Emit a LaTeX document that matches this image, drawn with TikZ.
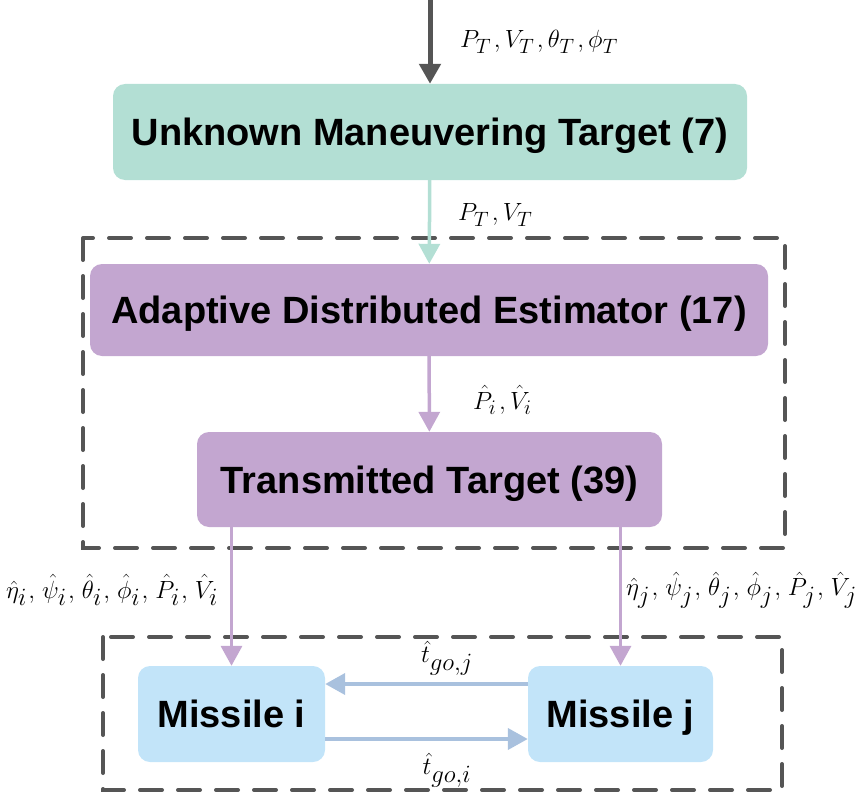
\documentclass[tikz,border=0pt]{standalone}
\usepackage{fontspec}
\setsansfont{Liberation Sans}
\setmainfont{Liberation Serif}
\usepackage{tikz}
\usetikzlibrary{arrows.meta,positioning,calc}

\definecolor{tealbox}{HTML}{B3DFD4}
\definecolor{purplebox}{HTML}{C3A6D0}
\definecolor{bluebox}{HTML}{C2E4F9}
\definecolor{bluearrow}{HTML}{A9C1DE}
\definecolor{darkline}{HTML}{555555}

\newcommand{\tsep}{\mkern2mu,}
\newcommand{\lsep}{\mkern1mu,\mkern2mu}

\tikzset{
  block/.style={rounded corners=12pt,inner sep=0pt,text=black,
    text height=27.5pt,text depth=0pt,
    font=\sffamily\bfseries\fontsize{38}{40}\selectfont},
  flow/.style={line width=3.5pt,-{Triangle[length=20pt,width=21pt]}},
  mlabel/.style={inner sep=0pt,font=\fontsize{30}{32}\selectfont},
  biglabel/.style={mlabel,font=\fontsize{33}{35}\selectfont},
  group/.style={darkline,line width=4pt,dash pattern=on 22pt off 16pt,line cap=round},
}

\begin{document}
\begin{tikzpicture}[x=1pt,y=-1pt]
  \useasboundingbox (0,0) rectangle (865,800);
  % target and estimator blocks
  \node[block,fill=tealbox,minimum width=634pt,minimum height=96pt] (target) at (430,132) {Unknown Maneuvering Target (7)};
  \node[block,fill=purplebox,minimum width=678pt,minimum height=92pt] (estimator) at (429,310) {Adaptive Distributed Estimator (17)};
  \node[block,fill=purplebox,minimum width=465pt,minimum height=95pt] (transmitted) at (429.5,479.5) {Transmitted Target (39)};
  % missiles
  \node[block,fill=bluebox,minimum width=187pt,minimum height=96pt] (missilei) at (231.5,714) {Missile i};
  \node[block,fill=bluebox,minimum width=185pt,minimum height=96pt] (missilej) at (620.5,714) {Missile j};
  \coordinate (input) at (430,0);

  % dashed groups
  \draw[group] (83,238) rectangle (785,548);
  \draw[group] (103,637) rectangle (782,790);

  % connectors
  \draw[flow,darkline,line width=5pt] (input) -- (target.north);
  \draw[flow,tealbox] (target) -- (estimator);
  \draw[flow,purplebox] (estimator) -- (transmitted);
  \draw[flow,purplebox] (transmitted.south -| missilei) -- (missilei);
  \draw[flow,purplebox] (transmitted.south -| missilej) -- (missilej);
  \draw[flow,bluearrow,line width=4pt] ($(missilej.west)+(0,-30)$) -- ($(missilei.east)+(0,-30)$);
  \draw[flow,bluearrow,line width=4pt] ($(missilei.east)+(0,25)$) -- ($(missilej.west)+(0,25)$);

  % labels
  \node[mlabel,anchor=west] (lbltarget) at (460,42) {$P_T\tsep V_T\tsep\theta_T\tsep\phi_T$};
  \node[mlabel,anchor=west] (lblmeas) at (458,215) {$P_T\tsep V_T$};
  \node[mlabel,anchor=west] (lblest) at (473,400) {$\hat{P}_i\tsep\hat{V}_i$};
  \node[biglabel,anchor=west] (lbli) at (6,590) {$\hat{\eta}_i\lsep\hat{\psi}_i\lsep\hat{\theta}_i\lsep\hat{\phi}_i\lsep\hat{P}_i\lsep\hat{V}_i$};
  \node[biglabel,anchor=west] (lblj) at (626,590) {$\hat{\eta}_j\lsep\hat{\psi}_j\lsep\hat{\theta}_j\lsep\hat{\phi}_j\lsep\hat{P}_j\lsep\hat{V}_j$};
  \node[biglabel] (lbltj) at (447,658) {$\hat{t}_{go,j}$};
  \node[biglabel] (lblti) at (447,770) {$\hat{t}_{go,i}$};
\end{tikzpicture}
\end{document}
